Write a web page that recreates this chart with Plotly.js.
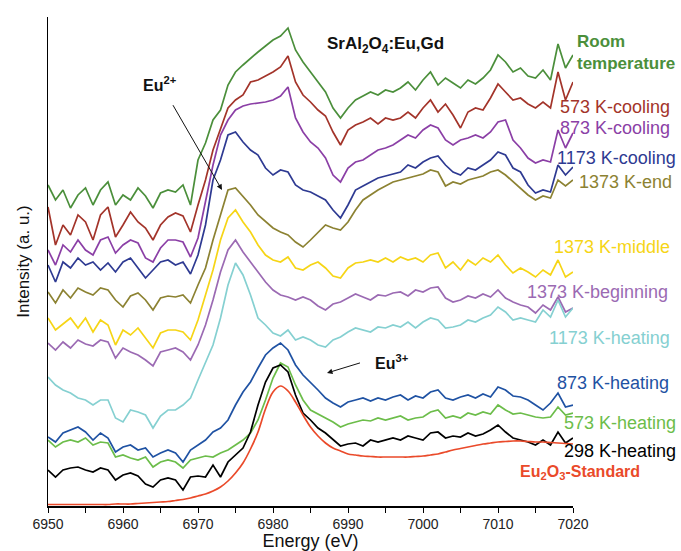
<!DOCTYPE html>
<html>
<head>
<meta charset="utf-8">
<script src="https://cdn.plot.ly/plotly-3.0.1.min.js"></script>
<style>html,body{margin:0;padding:0;background:#fff;}#chart{width:681px;height:551px;}</style>
</head>
<body>
<div id="chart"></div>
<script>
// Energy grid (eV), 1 eV sampling
const energy = Array.from({length: 71}, (_, i) => 6950 + i);

// Stacked XANES intensities (a.u., offset)
const roomTemp = [321,306,316,298,311,318,301,316,324,301,311,306,318,310,298,313,316,314,321,301,
  346,363,386,396,421,434,441,448,454,460,466,470,478,456,444,434,424,414,398,388,
  398,406,410,414,411,416,414,418,424,416,426,434,421,428,423,418,426,422,428,436,
  451,444,434,438,430,428,436,426,462,438,451];
const k573Cooling = [299,261,281,271,291,284,266,291,299,269,281,294,284,278,266,281,289,293,290,274,
  301,326,356,378,398,406,411,424,426,430,434,439,450,424,411,404,396,390,374,361,
  376,381,384,388,382,388,386,388,394,388,398,406,394,402,391,378,394,398,396,408,
  422,414,406,408,402,398,404,398,434,406,424];
const k873Cooling = [256,241,261,254,266,256,251,266,269,253,261,266,263,248,244,258,266,266,264,249,
  268,306,341,371,386,396,400,402,403,404,406,410,419,388,374,364,358,348,331,324,
  338,344,346,351,356,358,361,366,371,368,376,381,378,366,361,366,368,371,368,374,
  384,386,366,358,348,343,346,344,376,358,373];
const k1173Cooling = [241,224,244,238,248,241,244,236,243,234,244,248,238,228,236,244,246,241,244,232,
  251,281,326,346,371,374,364,356,351,338,331,336,334,321,316,314,310,306,296,288,
  301,316,320,324,328,330,332,334,341,338,344,348,350,341,334,331,338,336,341,346,
  354,351,338,334,321,313,316,314,341,331,339];
const k1373End = [214,203,216,208,218,214,211,218,216,206,199,210,213,206,196,208,210,209,211,203,
  221,238,266,291,316,318,310,301,291,284,278,274,271,264,259,266,274,281,278,276,
  284,296,306,311,316,320,324,326,328,330,332,336,334,320,324,322,326,328,330,334,
  336,331,324,318,311,306,310,308,326,320,326];
const k1373Middle = [188,176,182,188,178,188,174,186,181,161,176,171,178,168,158,173,176,176,174,166,
  186,211,236,266,288,296,284,274,261,251,246,244,249,238,236,241,244,238,230,228,
  238,243,244,246,244,248,244,249,246,248,244,251,253,238,244,236,246,241,248,244,
  251,241,233,238,234,229,236,231,246,229,234];
const k1373Beginning = [163,156,164,158,166,162,160,166,164,148,158,154,151,146,140,154,156,158,154,146,
  161,181,206,234,256,266,254,244,234,224,216,211,209,206,209,206,200,196,202,204,
  208,212,209,206,211,210,213,214,210,216,214,218,219,208,204,206,210,208,212,209,
  216,208,204,201,199,193,201,196,209,194,198];
const k1173Heating = [129,121,116,113,108,106,101,106,106,88,84,96,94,91,78,90,96,96,101,108,
  126,144,161,188,221,243,231,211,188,181,173,170,176,166,169,166,161,159,166,169,
  174,178,176,174,179,178,181,179,184,178,184,188,186,178,179,181,186,184,188,191,
  199,194,186,188,186,184,196,189,206,189,198];
const k873Heating = [69,64,73,76,79,74,66,73,68,54,59,61,56,58,49,53,56,53,44,56,
  61,66,74,78,86,101,114,124,138,151,158,163,156,141,131,124,116,108,103,99,
  104,106,108,105,108,106,109,111,106,110,108,114,116,108,106,109,111,108,112,109,
  119,116,110,109,106,101,96,103,113,99,101];
const k573Heating = [66,59,64,66,64,68,61,64,63,49,51,48,46,49,39,44,46,44,38,46,
  48,50,49,53,56,61,66,73,86,106,128,143,139,121,106,96,92,88,84,79,
  82,84,86,85,88,86,88,90,86,88,89,94,96,88,90,88,93,91,94,92,
  101,96,92,93,91,89,88,89,99,91,93];
const k298Heating = [36,29,36,38,39,36,34,38,36,26,31,33,30,22,19,26,28,26,16,29,
  30,29,41,29,44,51,58,74,101,124,138,141,134,111,93,86,78,73,66,60,
  62,63,60,66,64,66,68,66,70,68,66,73,74,68,70,69,73,70,72,76,
  81,74,68,66,64,61,66,61,74,63,68];
const eu2o3Standard = [1.5,1.5,1.5,1.5,1.5,1.5,1.5,1.5,1.5,2,2,2,
  2.5,3,3.5,4,4.5,5.5,6.5,8,10,12,15,19,25,33,43,57,74,97,114,120,115,104,91,79,70,63,58,55,
  52,51,50,49.5,49,49,49,49,49,49.5,50,51,52,54,56,57.5,59,60.5,62,63,
  64,64.5,65,65,64.5,64,64,63.5,63,62.5,62];

const seriesNames = ['Room temperature','573 K-cooling','873 K-cooling','1173 K-cooling','1373 K-end',
  '1373 K-middle','1373 K-beginning','1173 K-heating','873 K-heating','573 K-heating','298 K-heating','Eu2O3-Standard'];
const seriesData = [roomTemp,k573Cooling,k873Cooling,k1173Cooling,k1373End,k1373Middle,k1373Beginning,
  k1173Heating,k873Heating,k573Heating,k298Heating,eu2o3Standard];
const seriesColors = ['#4b8f3b','#a3342a','#8b3fa6','#2e3a92','#8c8232','#f6d516','#9b6ab3',
  '#85d0d1','#1f52a3','#6cbd4a','#000000','#ea4a2a'];
const labelText = ['<b>Room<br>temperature</b>','573 K-cooling','873 K-cooling','1173 K-cooling','1373 K-end',
  '1373 K-middle','1373 K-beginning','1173 K-heating','873 K-heating','573 K-heating','298 K-heating',
  '<b>Eu<sub>2</sub>O<sub>3</sub>-Standard</b>'];
const labelX = [1.0038,0.9714,0.9714,0.9657,1.0076,0.96,0.9086,0.9505,0.9657,0.979,0.979,0.8952];
const labelY = [0.9264,0.8159,0.7731,0.7117,0.6626,0.5297,0.4376,0.3436,0.2515,0.1697,0.1124,0.0675];
const labelSize = [17,18,18,18,18,18,18,18,18,18,18,16];

const FONT = 'Arial, "Liberation Sans", Helvetica, sans-serif';

const traces = seriesData.map((d, i) => ({
  x: energy, y: d, type: 'scatter', mode: 'lines', name: seriesNames[i],
  line: {color: seriesColors[i], width: 1.7, shape: i === 11 ? 'spline' : 'linear'},
  hoverinfo: 'skip'
}));

const annotations = labelText.map((t, i) => ({
  xref: 'paper', yref: 'paper', x: labelX[i], y: labelY[i], xanchor: 'left', yanchor: 'middle',
  text: t, showarrow: false, align: 'left',
  font: {family: FONT, size: labelSize[i], color: seriesColors[i]}
}));

annotations.push(
  {xref:'paper', yref:'paper', x:0.642, y:0.9427, xanchor:'center', yanchor:'middle', showarrow:false,
   text:'<b>SrAl<sub>2</sub>O<sub>4</sub>:Eu,Gd</b>', font:{family:FONT, size:17, color:'#111'}},
  {xref:'paper', yref:'paper', x:0.2133, y:0.863, xanchor:'center', yanchor:'middle', showarrow:false,
   text:'<b>Eu<sup>2+</sup></b>', font:{family:FONT, size:16, color:'#111'}},
  {xref:'paper', yref:'paper', x:0.655, y:0.2945, xanchor:'center', yanchor:'middle', showarrow:false,
   text:'<b>Eu<sup>3+</sup></b>', font:{family:FONT, size:16, color:'#111'}},
  {xref:'paper', yref:'paper', x:0.3314, y:0.6462, text:' ', showarrow:true, ax:-52, ay:-90,
   arrowhead:2, arrowsize:1.1, arrowwidth:1, arrowcolor:'#111', standoff:0},
  {xref:'paper', yref:'paper', x:0.5314, y:0.2720, text:' ', showarrow:true, ax:36, ay:-11,
   arrowhead:2, arrowsize:1.1, arrowwidth:1, arrowcolor:'#111', standoff:0}
);

const layout = {
  width: 681, height: 551,
  margin: {l: 48, r: 108, t: 17, b: 45, pad: 0},
  paper_bgcolor: '#fff', plot_bgcolor: '#fff',
  showlegend: false,
  font: {family: FONT, color: '#222'},
  xaxis: {
    range: [6950, 7020], dtick: 10, tick0: 6950,
    showgrid: false, zeroline: false,
    showline: true, linecolor: '#000', linewidth: 1.5,
    ticks: 'outside', ticklen: 5, tickwidth: 1, tickcolor: '#000',
    minor: {dtick: 5, ticks: 'outside', ticklen: 5, tickwidth: 1, tickcolor: '#000', showgrid: false},
    tickfont: {family: FONT, size: 14, color: '#222'},
    title: {text: 'Energy (eV)', font: {family: FONT, size: 18, color: '#111'}, standoff: 4}
  },
  yaxis: {
    range: [0, 489],
    showgrid: false, zeroline: false, showticklabels: false, ticks: '',
    showline: true, linecolor: '#000', linewidth: 1.5,
    title: {text: 'Intensity (a. u.)', font: {family: FONT, size: 17, color: '#111'}, standoff: 12}
  },
  annotations: annotations
};

Plotly.newPlot('chart', traces, layout, {displayModeBar: false, staticPlot: true});
</script>
</body>
</html>
